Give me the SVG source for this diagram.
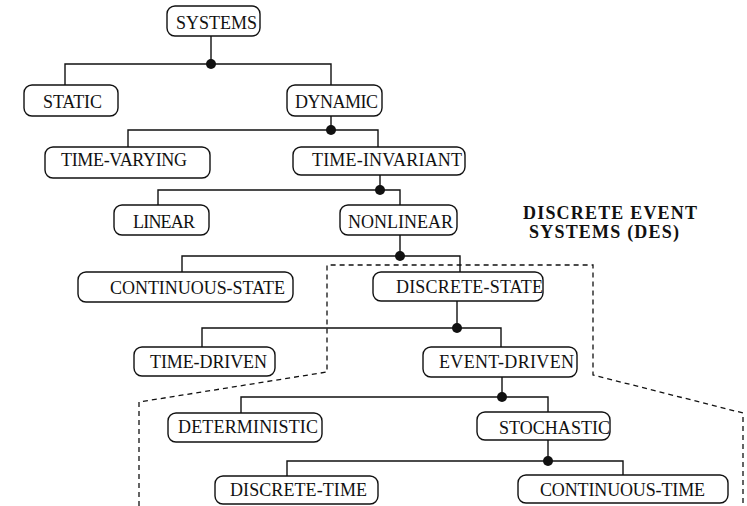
<svg xmlns="http://www.w3.org/2000/svg" width="747" height="506" viewBox="0 0 747 506">
<style>
.box{fill:#fff;stroke:#111;stroke-width:1.4}
.lbl{font-family:"Liberation Serif","Times New Roman",serif;font-size:18px;fill:#111}
.des{font-family:"Liberation Serif","Times New Roman",serif;font-size:18px;font-weight:bold;fill:#111}
.ln{fill:none;stroke:#111;stroke-width:1.4}
.dash{fill:none;stroke:#111;stroke-width:1.3;stroke-dasharray:5 4}
.dot{fill:#111}
</style>
<rect width="747" height="506" fill="#fff"/>
<g id="connectors">
<path class="dash" d="M139 506 V402 L327 372 V265 H593 V375 L743 413 V506"/>
<path class="ln" d="M211 36 V64 M65 85 V64 H331 V85"/>
<path class="ln" d="M331 116 V130 M128 147 V130 H378 V147"/>
<path class="ln" d="M380 175 V190 M158 205 V190 H400 V205"/>
<path class="ln" d="M400 235 V256 M182 272 V256 H460 V272"/>
<path class="ln" d="M457 301 V328 M202 347 V328 H501 V347"/>
<path class="ln" d="M502 377 V397 M241 413 V397 H548 V412"/>
<path class="ln" d="M548 440 V461 M287 476 V461 H623 V475"/>
<circle class="dot" cx="211" cy="64" r="5"/>
<circle class="dot" cx="331" cy="130" r="5"/>
<circle class="dot" cx="380" cy="190" r="5"/>
<circle class="dot" cx="400" cy="256" r="5"/>
<circle class="dot" cx="457" cy="328" r="5"/>
<circle class="dot" cx="502" cy="397" r="5"/>
<circle class="dot" cx="548" cy="461" r="5"/>
</g>
<g id="systems"><rect class="box" x="167" y="6" width="93" height="30" rx="8"/><text class="lbl" x="176" y="29" textLength="81">SYSTEMS</text></g>
<g id="static"><rect class="box" x="24" y="85" width="94" height="31" rx="8"/><text class="lbl" x="43" y="108" textLength="59">STATIC</text></g>
<g id="dynamic"><rect class="box" x="287" y="85" width="95" height="31" rx="8"/><text class="lbl" x="295" y="108" textLength="83">DYNAMIC</text></g>
<g id="time-varying"><rect class="box" x="45" y="147" width="165" height="31" rx="8"/><text class="lbl" x="61" y="166" textLength="126">TIME-VARYING</text></g>
<g id="time-invariant"><rect class="box" x="293" y="147" width="172" height="28" rx="8"/><text class="lbl" x="312" y="166" textLength="150">TIME-INVARIANT</text></g>
<g id="linear"><rect class="box" x="114" y="205" width="95" height="30" rx="8"/><text class="lbl" x="133" y="228" textLength="62">LINEAR</text></g>
<g id="nonlinear"><rect class="box" x="340" y="205" width="117" height="30" rx="8"/><text class="lbl" x="348" y="228" textLength="105">NONLINEAR</text></g>
<g id="continuous-state"><rect class="box" x="78" y="272" width="215" height="30" rx="8"/><text class="lbl" x="110" y="294" textLength="175">CONTINUOUS-STATE</text></g>
<g id="discrete-state"><rect class="box" x="373" y="272" width="170" height="29" rx="8"/><text class="lbl" x="396" y="293" textLength="147">DISCRETE-STATE</text></g>
<g id="time-driven"><rect class="box" x="134" y="347" width="141" height="29" rx="8"/><text class="lbl" x="150" y="368" textLength="117">TIME-DRIVEN</text></g>
<g id="event-driven"><rect class="box" x="423" y="347" width="154" height="30" rx="8"/><text class="lbl" x="439" y="368" textLength="135">EVENT-DRIVEN</text></g>
<g id="deterministic"><rect class="box" x="168" y="413" width="154" height="29" rx="8"/><text class="lbl" x="178" y="433" textLength="140">DETERMINISTIC</text></g>
<g id="stochastic"><rect class="box" x="477" y="412" width="133" height="28" rx="8"/><text class="lbl" x="499" y="434" textLength="111">STOCHASTIC</text></g>
<g id="discrete-time"><rect class="box" x="215" y="476" width="163" height="28" rx="8"/><text class="lbl" x="230" y="496" textLength="137">DISCRETE-TIME</text></g>
<g id="continuous-time"><rect class="box" x="518" y="475" width="210" height="28" rx="8"/><text class="lbl" x="540" y="496" textLength="165">CONTINUOUS-TIME</text></g>
<g id="des-label"><text class="des" x="523" y="219" textLength="174">DISCRETE EVENT</text><text class="des" x="529" y="238" textLength="150">SYSTEMS (DES)</text></g>
</svg>
